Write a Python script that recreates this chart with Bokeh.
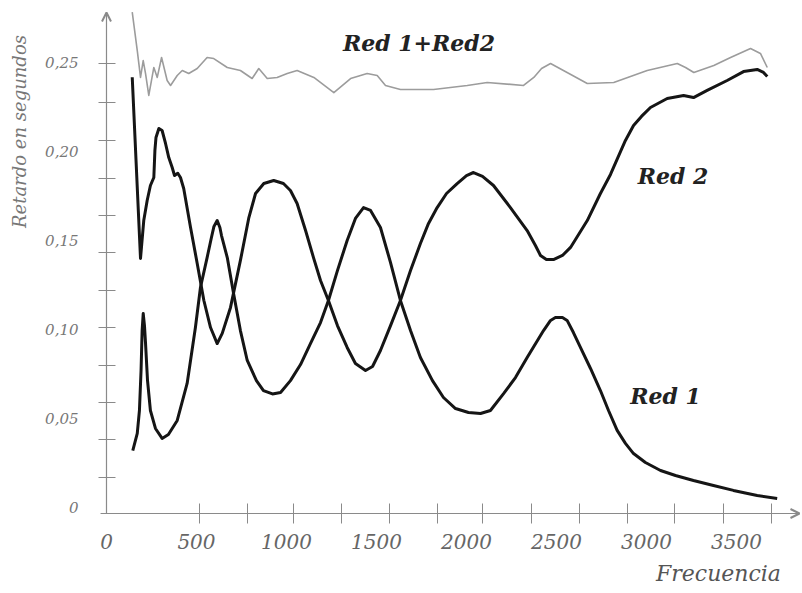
from bokeh.plotting import figure
from bokeh.models import (FixedTicker, CustomJSTickFormatter, Label, Arrow,
                          OpenHead, Range1d, LinearAxis)
from bokeh.embed import file_html
from bokeh.resources import INLINE

# ---- data ----
red2_x = [143, 189, 207, 226, 244, 263, 269, 275, 291, 309, 328, 346, 365, 378,
          396, 411, 429, 467, 504, 541, 578, 615, 643, 689, 744, 791, 828, 874,
          929, 983, 1022, 1059, 1106, 1150, 1189, 1233, 1283, 1337, 1383, 1439,
          1478, 1522, 1578, 1633, 1689, 1744, 1789, 1837, 1889, 1948, 2000, 2039,
          2089, 2150, 2244, 2337, 2383, 2411, 2444, 2483, 2533, 2578, 2671, 2744,
          2800, 2839, 2883, 2928, 2972, 3022, 3115, 3206, 3261, 3337, 3448, 3539,
          3615, 3650, 3671]
red2_y = [0.2417, 0.1399, 0.1612, 0.1725, 0.1809, 0.1854, 0.2006, 0.2079, 0.2129,
          0.2118, 0.2045, 0.1966, 0.1910, 0.1865, 0.1878, 0.1854, 0.1792, 0.1573,
          0.1371, 0.1163, 0.1011, 0.0921, 0.0978, 0.1124, 0.1388, 0.1629, 0.1764,
          0.1820, 0.1837, 0.1820, 0.1781, 0.1708, 0.1556, 0.1404, 0.1275, 0.1163,
          0.1022, 0.0899, 0.0809, 0.0770, 0.0792, 0.0882, 0.1022, 0.1163, 0.1331,
          0.1483, 0.1596, 0.1685, 0.1764, 0.1820, 0.1865, 0.1882, 0.1860, 0.1809,
          0.1685, 0.1556, 0.1472, 0.1416, 0.1393, 0.1393, 0.1416, 0.1461, 0.1612,
          0.1764, 0.1871, 0.1961, 0.2062, 0.2146, 0.2197, 0.2247, 0.2298, 0.2315,
          0.2303, 0.2343, 0.2399, 0.2449, 0.2461, 0.2444, 0.2421]

red1_x = [146, 171, 183, 192, 198, 204, 211, 217, 228, 244, 272, 309, 344, 393,
          448, 494, 522, 559, 583, 597, 615, 630, 639, 671, 706, 744, 782, 833,
          872, 922, 967, 1022, 1078, 1133, 1189, 1233, 1283, 1337, 1383, 1428,
          1467, 1522, 1578, 1633, 1689, 1744, 1811, 1872, 1939, 2011, 2078, 2133,
          2206, 2272, 2337, 2428, 2467, 2494, 2533, 2559, 2594, 2633, 2689, 2744,
          2789, 2837, 2883, 2928, 2994, 3078, 3161, 3261, 3372, 3483, 3615, 3726]
red1_y = [0.0320, 0.0416, 0.0545, 0.0770, 0.0994, 0.1090, 0.1022, 0.0921, 0.0713,
          0.0545, 0.0444, 0.0388, 0.0410, 0.0489, 0.0697, 0.1011, 0.1236, 0.1404,
          0.1517, 0.1579, 0.1612, 0.1573, 0.1528, 0.1404, 0.1202, 0.0994, 0.0826,
          0.0713, 0.0657, 0.0638, 0.0646, 0.0713, 0.0803, 0.0921, 0.1039, 0.1163,
          0.1331, 0.1500, 0.1624, 0.1685, 0.1669, 0.1573, 0.1376, 0.1163, 0.0994,
          0.0843, 0.0713, 0.0618, 0.0556, 0.0534, 0.0528, 0.0545, 0.0640, 0.0730,
          0.0843, 0.0994, 0.1051, 0.1067, 0.1067, 0.1051, 0.0983, 0.0899, 0.0781,
          0.0657, 0.0545, 0.0433, 0.0360, 0.0303, 0.0253, 0.0208, 0.0180, 0.0152,
          0.0124, 0.0096, 0.0067, 0.0051]

sum_x = [143, 171, 189, 204, 217, 235, 263, 282, 306, 337, 356, 393, 421, 457,
         504, 559, 596, 671, 744, 809, 846, 893, 948, 1004, 1059, 1152, 1263,
         1356, 1448, 1504, 1550, 1633, 1817, 2004, 2115, 2317, 2374, 2417, 2467,
         2559, 2671, 2818, 3004, 3171, 3217, 3263, 3374, 3467, 3578, 3633, 3671]
sum_y = [0.2783, 0.2567, 0.2416, 0.2511, 0.2438, 0.2315, 0.2472, 0.2416, 0.2528,
         0.2399, 0.2371, 0.2427, 0.2455, 0.2438, 0.2466, 0.2528, 0.2522, 0.2472,
         0.2455, 0.2410, 0.2466, 0.2410, 0.2416, 0.2438, 0.2455, 0.2416, 0.2331,
         0.2410, 0.2438, 0.2427, 0.2371, 0.2348, 0.2348, 0.2371, 0.2388, 0.2371,
         0.2416, 0.2466, 0.2494, 0.2444, 0.2382, 0.2388, 0.2455, 0.2494, 0.2472,
         0.2444, 0.2483, 0.2528, 0.2579, 0.2551, 0.2472]

x_ticks = [0, 500, 1000, 1500, 2000, 2500, 3000, 3500]
x_minor = [517, 783, 1039, 1306, 1572, 1839, 2089, 2361, 2628, 2894, 3156, 3428, 3694]
y_ticks = [0, 0.05, 0.1, 0.15, 0.2, 0.25]
y_minor = [0.0169, 0.0382, 0.0590, 0.0798, 0.1011, 0.1219, 0.1433, 0.1640,
           0.1848, 0.2062, 0.2275, 0.2494]

x_title = "Frecuencia"
y_title = "Retardo en segundos"

SERIF = "DejaVu Serif"
AX = "#8a8a8a"
AXIS_Y0 = -0.00337   # level of the drawn x-axis line

p = figure(width=802, height=590, output_backend="svg", toolbar_location=None,
           x_range=Range1d(-44.4, 3866.7), y_range=Range1d(-0.00899, 0.28483),
           min_border_left=98, min_border_right=0, min_border_top=0,
           min_border_bottom=67)
p.outline_line_color = None
p.grid.visible = False
p.background_fill_color = "white"

p.line(sum_x, sum_y, line_color="#9c9c9c", line_width=1.6, line_join="round")
p.line(red1_x, red1_y, line_color="#151515", line_width=3, line_join="round")
p.line(red2_x, red2_y, line_color="#151515", line_width=3, line_join="round")

xa = p.xaxis[0]
xa.ticker = FixedTicker(ticks=x_ticks, minor_ticks=x_minor)
xa.axis_line_color = None
xa.major_tick_in = 0
xa.major_tick_out = 0
xa.minor_tick_in = 20
xa.minor_tick_out = 0
xa.minor_tick_line_color = AX
xa.major_label_standoff = 10
xa.major_label_text_font = SERIF
xa.major_label_text_font_style = "italic"
xa.major_label_text_font_size = "20px"
xa.major_label_text_color = "#666666"

ya = p.yaxis[0]
ya.ticker = FixedTicker(ticks=y_ticks, minor_ticks=y_minor)
ya.formatter = CustomJSTickFormatter(
    code='return tick == 0 ? "0" : tick.toFixed(2).replace(".", ",");')
ya.axis_line_color = None
ya.major_tick_in = 0
ya.major_tick_out = 0
ya.minor_tick_in = 17
ya.minor_tick_out = 0
ya.minor_tick_line_color = AX
ya.major_label_standoff = 20
ya.major_label_text_font = SERIF
ya.major_label_text_font_style = "italic"
ya.major_label_text_font_size = "15px"
ya.major_label_text_color = "#777777"

# axis titles as extra label-only axes (kept outside the frame)
xt = LinearAxis(ticker=FixedTicker(ticks=[3400]),
                formatter=CustomJSTickFormatter(code='return "%s";' % x_title),
                axis_line_color=None, major_tick_line_color=None,
                minor_tick_line_color=None, major_label_standoff=3,
                major_label_text_font=SERIF, major_label_text_font_style="italic",
                major_label_text_font_size="22px", major_label_text_color="#555555")
p.add_layout(xt, "below")

yt = LinearAxis(ticker=FixedTicker(ticks=[0.2112]),
                formatter=CustomJSTickFormatter(code='return "%s";' % y_title),
                axis_line_color=None, major_tick_line_color=None,
                minor_tick_line_color=None, major_label_standoff=6,
                major_label_orientation="vertical",
                major_label_text_font=SERIF, major_label_text_font_style="italic",
                major_label_text_font_size="18px", major_label_text_color="#777777")
p.add_layout(yt, "left")

# axis lines with arrow heads
p.add_layout(Arrow(end=OpenHead(size=9, line_color=AX, line_width=2),
                   line_color=AX, line_width=1.2,
                   x_start=0, y_start=AXIS_Y0, x_end=0, y_end=0.2781))
p.add_layout(Arrow(end=OpenHead(size=9, line_color=AX, line_width=2),
                   line_color=AX, line_width=1.2,
                   x_start=-33, y_start=AXIS_Y0, x_end=3850, y_end=AXIS_Y0))

def lab(x, y, t):
    p.add_layout(Label(x=x, y=y, text=t, text_font=SERIF, text_font_size="22px",
                       text_font_style="bold italic", text_color="#222222",
                       text_align="center", text_baseline="middle"))

lab(1736, 0.2612, "Red 1+Red2")
lab(3147, 0.1860, "Red 2")
lab(3106, 0.0629, "Red 1")

open("out.html", "w").write(file_html(p, INLINE))
